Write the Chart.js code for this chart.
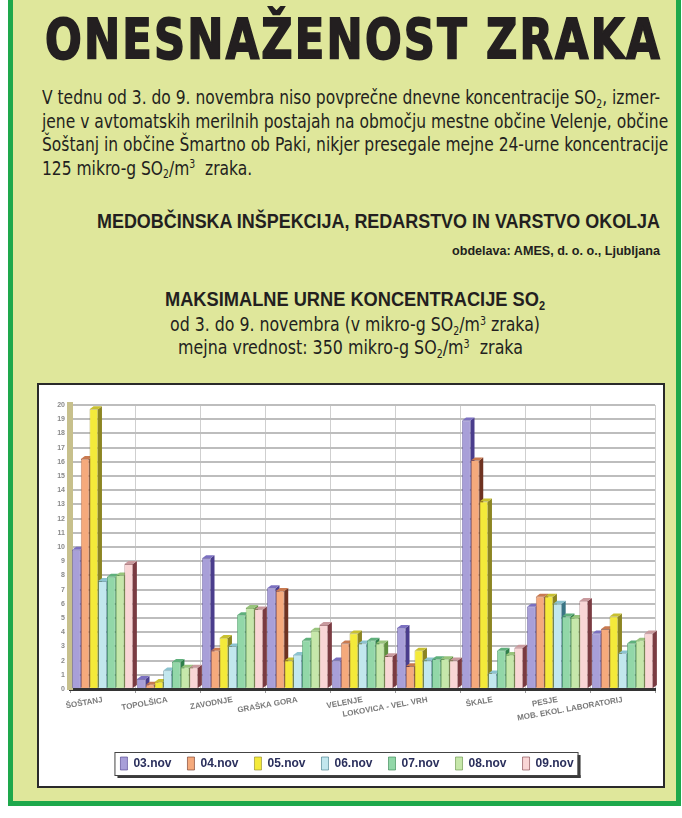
<!DOCTYPE html>
<html lang="sl">
<head>
<meta charset="UTF-8">
<title>Onesnaženost zraka</title>
<script src="https://cdn.jsdelivr.net/npm/chart.js"></script>
<style>
  body { margin: 0; width: 682px; height: 818px; background: #fff; position: relative; overflow: hidden;
         font-family: "Liberation Sans Narrow", "DejaVu Sans Condensed", sans-serif; color: #231f20; }
  #panel { position: absolute; left: 8px; top: -6px; width: 663px; height: 807px; background: #dfe79b;
           border: 5px solid #1ea84b; border-top: none; }
  .t { position: absolute; white-space: nowrap; display: inline-block; transform-origin: left top; }
  #title { left: 45px; top: 11px; font: bold 40px/40px "DejaVu Sans", sans-serif; -webkit-text-stroke: 1.3px #231f20; letter-spacing: 2px; }
  .para { font-size: 19px; line-height: 23.5px; left: 42px; }
  .sub { font-size: 0.6em; position: relative; top: 0.35em; }
  .sup { font-size: 0.6em; position: relative; top: -0.55em; }
  #org { left: 97px; top: 210px; font: bold 21px/21px "Liberation Sans Narrow", sans-serif; }
  #ames { left: 452px; top: 245px; font: bold 12px/12px "Liberation Sans Narrow", sans-serif; }
  #ct1 { left: 165px; top: 289px; font: bold 20px/20px "Liberation Sans Narrow", sans-serif; }
  #ct2 { left: 170px; top: 315px; font-size: 19px; line-height: 19px; }
  #ct3 { left: 178px; top: 338px; font-size: 19px; line-height: 19px; }
  #box { position: absolute; left: 37px; top: 383px; width: 628px; height: 405px; box-sizing: border-box;
         border: 2px solid #2a2a2a; background: #fff; }
  #box canvas { display: block; }
</style>
</head>
<body>
<div id="panel"></div>
<div class="t" id="title" data-w="617" data-sy="1.38">ONESNAŽENOST ZRAKA</div>
<div class="t para" id="p1" style="top:86px">V tednu od 3. do 9. novembra niso povprečne dnevne koncentracije SO<span class="sub">2</span>, izmer-</div>
<div class="t para" style="top:109.5px">jene v avtomatskih merilnih postajah na območju mestne občine Velenje, občine</div>
<div class="t para" style="top:133px">Šoštanj in občine Šmartno ob Paki, nikjer presegale mejne 24-urne koncentracije</div>
<div class="t para" style="top:156.5px">125 mikro-g SO<span class="sub">2</span>/m<span class="sup">3</span>&nbsp; zraka.</div>
<div class="t" id="org" data-w="563">MEDOBČINSKA INŠPEKCIJA, REDARSTVO IN VARSTVO OKOLJA</div>
<div class="t" id="ames" data-w="208">obdelava: AMES, d. o. o., Ljubljana</div>
<div class="t" id="ct1" data-w="380">MAKSIMALNE URNE KONCENTRACIJE SO<span class="sub">2</span></div>
<div class="t" id="ct2" data-w="370">od 3. do 9. novembra (v mikro-g SO<span class="sub">2</span>/m<span class="sup">3</span> zraka)</div>
<div class="t" id="ct3" data-w="345">mejna vrednost: 350 mikro-g SO<span class="sub">2</span>/m<span class="sup">3</span>&nbsp; zraka</div>
<div id="box"><canvas id="chart" width="624" height="401"></canvas></div>

<script>
// data
const stations = ['ŠOŠTANJ', 'TOPOLŠICA', 'ZAVODNJE', 'GRAŠKA GORA', 'VELENJE',
                  'LOKOVICA - VEL. VRH', 'ŠKALE', 'PESJE', 'MOB. EKOL. LABORATORIJ'];
const days = ['03.nov', '04.nov', '05.nov', '06.nov', '07.nov', '08.nov', '09.nov'];
const nov03 = [9.8, 0.7, 9.2, 7.1, 2.0, 4.3, 18.9, 5.8, 3.9];
const nov04 = [16.2, 0.3, 2.7, 6.9, 3.2, 1.6, 16.1, 6.5, 4.2];
const nov05 = [19.7, 0.5, 3.6, 2.0, 3.9, 2.7, 13.2, 6.5, 5.1];
const nov06 = [7.6, 1.3, 3.0, 2.4, 3.2, 2.0, 1.1, 6.0, 2.5];
const nov07 = [7.9, 1.9, 5.2, 3.4, 3.4, 2.1, 2.7, 5.1, 3.2];
const nov08 = [8.0, 1.5, 5.7, 4.1, 3.2, 2.1, 2.4, 5.0, 3.4];
const nov09 = [8.8, 1.5, 5.6, 4.5, 2.3, 2.0, 2.9, 6.2, 3.9];
const series = [nov03, nov04, nov05, nov06, nov07, nov08, nov09];

// colours: front face, side face, top face
const fronts = ['#a89fd8', '#f5aa7c', '#f4ea3a', '#c2e7ee', '#92d7a8', '#c6e7aa', '#f9d6d6'];
const sides  = ['#4a3d8c', '#6e3220', '#8c8522', '#3a7585', '#2f7f4a', '#5f8f3f', '#7a3b42'];
const tops   = ['#7b70c0', '#c97a50', '#c8c030', '#8cc3cf', '#5fb07c', '#98c47c', '#c99a9e'];

// stretch the text blocks to the widths seen in the picture
function fit(el, w, sy) {
  const nat = el.getBoundingClientRect().width;
  el.style.transform = 'scale(' + (w / nat) + ',' + (sy || 1) + ')';
}
document.querySelectorAll('[data-w]').forEach(el => fit(el, +el.dataset.w, +el.dataset.sy));
const paraScale = 618 / document.getElementById('p1').getBoundingClientRect().width;
document.querySelectorAll('.para').forEach(el => el.style.transform = 'scaleX(' + paraScale + ')');

// side and top faces so the columns look like the 3D ones in the print
const depth = { dx: 4, dy: -3 };
const bars3d = {
  id: 'bars3d',
  beforeDatasetsDraw(chart) {
    const ctx = chart.ctx;
    ctx.save();
    chart.data.datasets.forEach((ds, i) => {
      chart.getDatasetMeta(i).data.forEach(bar => {
        const l = bar.x - bar.width / 2, r = bar.x + bar.width / 2;
        const y = bar.y, b = bar.base;
        ctx.fillStyle = sides[i];
        ctx.beginPath();
        ctx.moveTo(r, y); ctx.lineTo(r + depth.dx, y + depth.dy);
        ctx.lineTo(r + depth.dx, b + depth.dy); ctx.lineTo(r, b);
        ctx.closePath(); ctx.fill();
        ctx.fillStyle = tops[i];
        ctx.beginPath();
        ctx.moveTo(l, y); ctx.lineTo(l + depth.dx, y + depth.dy);
        ctx.lineTo(r + depth.dx, y + depth.dy); ctx.lineTo(r, y);
        ctx.closePath(); ctx.fill();
      });
    });
    ctx.restore();
  }
};

// frame with a drop shadow round the legend
const legendFrame = {
  id: 'legendFrame',
  afterDraw(chart) {
    const hb = chart.legend.legendHitBoxes;
    if (!hb || !hb.length) return;
    const x0 = Math.min(...hb.map(h => h.left)) - 6;
    const x1 = Math.max(...hb.map(h => h.left + h.width)) + 4;
    const y0 = hb[0].top - 5, y1 = hb[0].top + hb[0].height + 5;
    const ctx = chart.ctx;
    ctx.save();
    ctx.fillStyle = '#3a3a3a';
    ctx.fillRect(x0 + 3, y1, x1 - x0, 3);
    ctx.fillRect(x1, y0 + 3, 3, y1 - y0);
    ctx.strokeStyle = '#444';
    ctx.lineWidth = 1;
    ctx.strokeRect(x0 + 0.5, y0 + 0.5, x1 - x0, y1 - y0);
    ctx.restore();
  }
};

new Chart(document.getElementById('chart'), {
  type: 'bar',
  data: {
    labels: stations,
    datasets: series.map((s, i) => ({
      label: days[i],
      data: s,
      backgroundColor: fronts[i],
      borderColor: sides[i],
      borderWidth: 0.6,
      categoryPercentage: 0.94,
      barPercentage: 0.96
    }))
  },
  options: {
    responsive: false,
    animation: false,
    layout: { padding: { top: 20, right: 8, left: 0, bottom: 6 } },
    plugins: {
      tooltip: { enabled: false },
      legend: {
        position: 'bottom',
        labels: {
          boxWidth: 7, boxHeight: 13, padding: 16,
          color: '#2a2f5c',
          font: { family: 'Liberation Sans, Arial, sans-serif', size: 12, weight: 'bold' }
        }
      }
    },
    scales: {
      x: {
        grid: { color: '#cfcfcf', lineWidth: 1, tickLength: 4, tickColor: '#999' },
        border: { color: '#333', width: 3 },
        ticks: {
          autoSkip: false,
          color: '#7a7a7a', minRotation: 10, maxRotation: 10, padding: 2,
          font: { family: 'Liberation Sans Narrow, sans-serif', size: 8, weight: 'bold' }
        },
        afterFit: s => { s.height = 52; }
      },
      y: {
        min: 0, max: 20,
        grid: { color: '#bdbdbd', lineWidth: 2, drawTicks: false },
        border: { color: '#c7c08c', width: 6 },
        ticks: {
          stepSize: 1, color: '#8a8a8a', padding: 5,
          font: { family: 'Liberation Sans, sans-serif', size: 7, weight: 'bold' }
        },
        afterFit: s => { s.width = 31; }
      }
    }
  },
  plugins: [bars3d, legendFrame]
});
</script>
</body>
</html>
